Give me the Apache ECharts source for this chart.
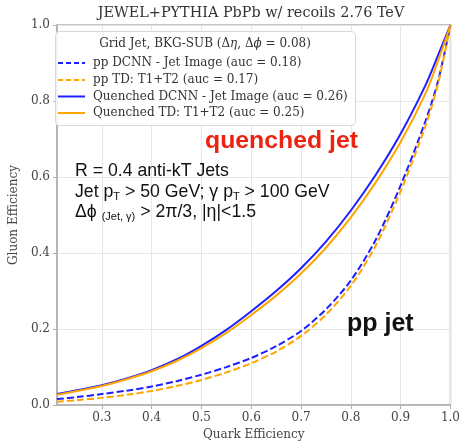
<!DOCTYPE html>
<html><head><meta charset="utf-8">
<script src="https://cdn.jsdelivr.net/npm/echarts@6/dist/echarts.min.js"></script>
<style>html,body{margin:0;padding:0;background:#fff}#c{width:463px;height:446px}</style>
</head><body><div id="c"></div>
<script>
const xVals = [0.21, 0.25, 0.3, 0.35, 0.4, 0.45, 0.5, 0.55, 0.6, 0.65, 0.7, 0.75, 0.8, 0.85, 0.9, 0.95, 0.975, 1.0];
const ppDCNN = [0.016, 0.021, 0.029, 0.038, 0.049, 0.063, 0.080, 0.100, 0.124, 0.155, 0.195, 0.252, 0.328, 0.435, 0.578, 0.748, 0.852, 1.0];
const ppTD = [0.009, 0.013, 0.019, 0.027, 0.037, 0.050, 0.066, 0.086, 0.110, 0.141, 0.182, 0.238, 0.314, 0.420, 0.563, 0.735, 0.845, 1.0];
const qDCNN = [0.029, 0.039, 0.052, 0.070, 0.092, 0.120, 0.156, 0.198, 0.247, 0.300, 0.360, 0.430, 0.512, 0.606, 0.714, 0.842, 0.920, 1.0];
const qTD = [0.027, 0.037, 0.050, 0.068, 0.089, 0.116, 0.150, 0.190, 0.237, 0.288, 0.346, 0.414, 0.494, 0.586, 0.692, 0.820, 0.905, 1.0];
const seriesNames = ['pp DCNN - Jet Image (auc = 0.18)', 'pp TD: T1+T2 (auc = 0.17)', 'Quenched DCNN - Jet Image (auc = 0.26)', 'Quenched TD: T1+T2 (auc = 0.25)'];
const xTicks = [0.3, 0.4, 0.5, 0.6, 0.7, 0.8, 0.9, 1.0];

const SERIF = "'DejaVu Serif', serif";
const SANS = "'Liberation Sans', Arial, sans-serif";
const BLUE = '#1f1fff', ORANGE = '#ffa500';
const DASH = [7, 3];
const colors = [BLUE, ORANGE, BLUE, ORANGE];
const dashed = [true, true, false, false];
const dataSets = [ppDCNN, ppTD, qDCNN, qTD];
const pairs = ys => xVals.map((x, i) => [x, ys[i]]);

const series = seriesNames.map((name, k) => ({
  name, type: 'line', data: pairs(dataSets[k]), smooth: 0.3,
  symbol: 'none', showSymbol: false,
  lineStyle: { color: colors[k], width: 2, type: dashed[k] ? DASH : 'solid' },
  itemStyle: { color: colors[k] }, z: 2
}));

const legendY = [63, 80, 96.5, 113];
const legendGraphics = [];
seriesNames.forEach((name, k) => {
  legendGraphics.push({ type: 'line', z: 7, shape: { x1: 58, y1: legendY[k], x2: 85, y2: legendY[k] },
    style: { stroke: colors[k], lineWidth: 2, lineDash: dashed[k] ? [5, 3] : null } });
  legendGraphics.push({ type: 'text', z: 7, x: 93, y: legendY[k],
    style: { text: name, align: 'left', verticalAlign: 'middle', font: "12px 'DejaVu Serif', serif", fill: '#333' } });
});

const chart = echarts.init(document.getElementById('c'), null, { renderer: 'canvas' });
chart.setOption({
  animation: false,
  grid: { left: 49.5, right: 10, top: 25, bottom: 29, show: true, borderColor: '#b0b0b0', borderWidth: 1.5, containLabel: false },
  xAxis: {
    type: 'value', min: 0.21, max: 1.0,
    name: 'Quark Efficiency', nameLocation: 'middle', nameGap: 22,
    nameTextStyle: { fontFamily: SERIF, fontSize: 12, color: '#444' },
    axisLine: { show: true, lineStyle: { color: '#b0b0b0', width: 1.5 } },
    axisTick: { show: true, length: 4, lineStyle: { color: '#b0b0b0' }, customValues: xTicks },
    axisLabel: { customValues: xTicks, formatter: v => v.toFixed(1), fontFamily: SERIF, fontSize: 12, color: '#444', margin: 7 },
    splitLine: { show: true, lineStyle: { color: '#e6e6e6', width: 1 } }
  },
  yAxis: {
    type: 'value', min: 0, max: 1.0, interval: 0.2,
    name: 'Gluon Efficiency', nameLocation: 'middle', nameGap: 36, nameRotate: 90,
    nameTextStyle: { fontFamily: SERIF, fontSize: 12, color: '#444' },
    axisLine: { show: true, lineStyle: { color: '#b0b0b0', width: 1.5 } },
    axisTick: { show: true, length: 4, lineStyle: { color: '#b0b0b0' } },
    axisLabel: { formatter: v => v.toFixed(1), fontFamily: SERIF, fontSize: 12, color: '#444', margin: 7 },
    splitLine: { show: true, lineStyle: { color: '#e6e6e6', width: 1 } }
  },
  series,
  graphic: [
    { type: 'rect', z: 5, shape: { x: 55.5, y: 31.5, width: 300, height: 94, r: 4 },
      style: { fill: 'rgba(255,255,255,0.85)', stroke: '#d8d8d8', lineWidth: 1 } },
    { type: 'text', z: 7, x: 205, y: 44,
      style: { text: '{n|Grid Jet, BKG-SUB (}{n|Δ}{i|η}{n|, Δ}{i|ϕ}{n| = 0.08)}', align: 'center', verticalAlign: 'middle',
        rich: { n: { fontFamily: SERIF, fontSize: 12, fill: '#333' }, i: { fontFamily: SERIF, fontSize: 12, fontStyle: 'italic', fill: '#333' } } } },
    ...legendGraphics,
    { type: 'text', z: 7, x: 251, y: 13,
      style: { text: 'JEWEL+PYTHIA PbPb w/ recoils 2.76 TeV', align: 'center', verticalAlign: 'middle', font: "14.4px 'DejaVu Serif', serif", fill: '#333' } },
    { type: 'text', z: 7, x: 205, y: 141,
      style: { text: 'quenched jet', align: 'left', verticalAlign: 'middle', font: "bold 24.8px 'Liberation Sans', Arial, sans-serif", fill: '#ee2211' } },
    { type: 'text', z: 7, x: 347, y: 324,
      style: { text: 'pp jet', align: 'left', verticalAlign: 'middle', font: "bold 25px 'Liberation Sans', Arial, sans-serif", fill: '#111' } },
    { type: 'text', z: 7, x: 75, y: 171,
      style: { text: 'R = 0.4 anti-kT Jets', align: 'left', verticalAlign: 'middle', font: "17.7px 'Liberation Sans', Arial, sans-serif", fill: '#111' } },
    { type: 'text', z: 7, x: 75, y: 192,
      style: { text: '{a|Jet p}{s|T}{a| > 50 GeV; γ p}{s|T}{a| > 100 GeV}', align: 'left', verticalAlign: 'middle',
        rich: { a: { fontFamily: SANS, fontSize: 17.7, fill: '#111', lineHeight: 20 }, s: { fontFamily: SANS, fontSize: 11, fill: '#111', lineHeight: 14, verticalAlign: 'bottom' } } } },
    { type: 'text', z: 7, x: 75, y: 212,
      style: { text: '{a|Δϕ }{s|(Jet, γ)}{a| > 2π/3, |η|<1.5}', align: 'left', verticalAlign: 'middle',
        rich: { a: { fontFamily: SANS, fontSize: 17.7, fill: '#111', lineHeight: 20 }, s: { fontFamily: SANS, fontSize: 11, fill: '#111', lineHeight: 14, verticalAlign: 'bottom' } } } }
  ]
});
</script></body></html>
